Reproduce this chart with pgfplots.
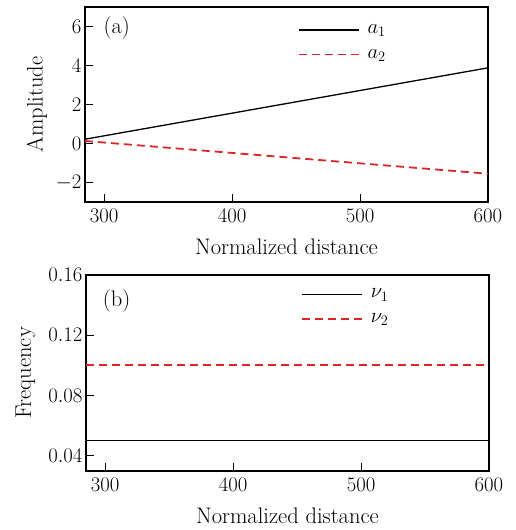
\documentclass[border=0pt]{standalone}
\usepackage{pgfplots}
\pgfplotsset{compat=1.18}
\definecolor{myred}{RGB}{218,38,38}

\pgfplotsset{
  panel/.style={
    scale only axis,
    width=403pt,
    xmin=285, xmax=600,
    xtick={300,400,500,600},
    xtick pos=bottom, ytick pos=left,
    tick align=inside,
    major tick length=8pt,
    axis line style={line width=1.2pt},
    every tick/.style={line width=1pt, black},
    tick label style={font=\fontsize{20}{24}\selectfont},
    xticklabel style={yshift=-4pt},
    xlabel={Normalized distance},
    xlabel style={yshift=-9pt},
    legend style={draw=none, fill=none, row sep=10pt,
      nodes={inner xsep=8pt}},
    legend cell align=left,
    legend image code/.code={\draw[##1] (0pt,0pt) -- (60pt,0pt);},
  },
}

\begin{document}
\begin{tikzpicture}[font=\fontsize{22.5}{26}\selectfont]
\useasboundingbox (0,0) rectangle (515pt,-530pt);

\begin{axis}[panel,
  name=top, at={(85pt,-7pt)}, anchor=north west,
  height=195pt,
  ymin=-3, ymax=7,
  ytick={-2,0,2,4,6},
  ylabel={Amplitude},
  ylabel shift=2pt,
  legend style={at={(0.52,0.93)}, anchor=north west},
]
\addplot[black, line width=1.3pt] coordinates {(285,0.22) (600,3.88)};
\addlegendentry{$a_1$}
\addplot[myred, line width=1.8pt, dash pattern=on 8pt off 5pt] coordinates {(285,0.13) (600,-1.55)};
\addlegendentry{$a_2$}
\node at (rel axis cs:0.079,0.892) {(a)};
\end{axis}

\begin{axis}[panel,
  name=bottom, at={(86pt,-275pt)}, anchor=north west,
  height=196pt,
  ymin=0.03, ymax=0.16,
  ytick={0.04,0.08,0.12,0.16},
  yticklabel style={/pgf/number format/.cd, fixed, fixed zerofill, precision=2},
  ylabel={Frequency},
  ylabel shift=6pt,
  legend style={at={(0.525,0.95)}, anchor=north west},
]
\addplot[black, line width=1.1pt] coordinates {(285,0.05) (600,0.05)};
\addlegendentry{$\nu_1$}
\addplot[myred, line width=2pt, dash pattern=on 8pt off 5pt] coordinates {(285,0.1) (600,0.1)};
\addlegendentry{$\nu_2$}
\node at (rel axis cs:0.076,0.867) {(b)};
\end{axis}
\end{tikzpicture}
\end{document}
